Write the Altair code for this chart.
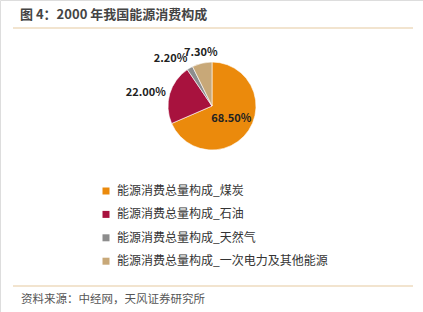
import altair as alt
import pandas as pd

categories = ["能源消费总量构成_煤炭", "能源消费总量构成_石油", "能源消费总量构成_天然气", "能源消费总量构成_一次电力及其他能源"]
values = [68.5, 22.0, 2.2, 7.3]
labels = ["68.50%", "22.00%", "2.20%", "7.30%"]
colors = ["#EB8A0C", "#A8123E", "#8D8D8D", "#C8A878"]
title_text = "图 4：2000 年我国能源消费构成"
source_text = "资料来源：中经网，天风证券研究所"

FONT = "Noto Sans CJK SC"
df = pd.DataFrame({"cat": categories, "value": values, "label": labels, "order": list(range(len(categories)))})

CX, CY = 212, 106
TWO_PI = 6.283185307179586

theta = alt.Theta("value:Q", stack=True)
color = alt.Color("cat:N", scale=alt.Scale(domain=categories, range=colors),
                  sort=categories,
                  legend=alt.Legend(title=None, orient="none", legendX=100, legendY=185,
                                    symbolType="square", symbolSize=49, symbolStrokeWidth=0,
                                    labelFont=FONT, labelFontSize=12, labelColor="#333333",
                                    labelOffset=5, rowPadding=11.4, labelLimit=400))
order = alt.Order("order:Q")

base = alt.Chart(df)
pie = base.mark_arc(radius=44, stroke="white", strokeWidth=0.6).encode(
    theta=theta, color=color, order=order, x=alt.value(CX), y=alt.value(CY))

lab = base.transform_window(
    cum="sum(value)", sort=[alt.SortField("order")], frame=[None, 0]
).transform_calculate(
    mid="(datum.cum - datum.value/2) / 100 * 2 * PI"
)
mid_theta = alt.Theta("mid:Q", scale=alt.Scale(domain=[0, TWO_PI], range=[0, TWO_PI]))

def label_layer(idx, radius, align, baseline):
    return lab.transform_filter(alt.datum.order == idx).mark_text(
        radius=radius, font=FONT, fontSize=11, fontWeight="bold", color="#222222",
        align=align, baseline=baseline).encode(
        theta=mid_theta, text="label:N", x=alt.value(CX), y=alt.value(CY))

l0 = label_layer(0, 23, "center", "middle")
l1 = label_layer(1, 48, "right", "middle")
l2 = label_layer(2, 49, "right", "bottom")
l3 = label_layer(3, 49, "center", "bottom")

title = alt.Chart(pd.DataFrame({"t": [title_text]})).mark_text(
    font=FONT, fontSize=13, fontWeight="bold", color="#444444", align="left", baseline="middle").encode(
    text="t:N", x=alt.value(20), y=alt.value(15))

source = alt.Chart(pd.DataFrame({"t": [source_text]})).mark_text(
    font=FONT, fontSize=11.5, color="#555555", align="left", baseline="middle").encode(
    text="t:N", x=alt.value(21), y=alt.value(300))

line_top = alt.Chart(pd.DataFrame({"a": [0]})).mark_rule(color="#E6C9A0", strokeWidth=1.2).encode(
    x=alt.value(13), x2=alt.value(413), y=alt.value(28))
line_bot = alt.Chart(pd.DataFrame({"a": [0]})).mark_rule(color="#E6C9A0", strokeWidth=1.2).encode(
    x=alt.value(13), x2=alt.value(413), y=alt.value(286))

chart = alt.layer(pie, l0, l1, l2, l3, title, source, line_top, line_bot).resolve_scale(
    theta="independent").properties(
    width=423, height=312, autosize=alt.AutoSizeParams(type="none"), padding=0
).configure_view(stroke=None).configure(background="white")

chart.save("out.html", embed_options={"renderer": "svg", "actions": False})
